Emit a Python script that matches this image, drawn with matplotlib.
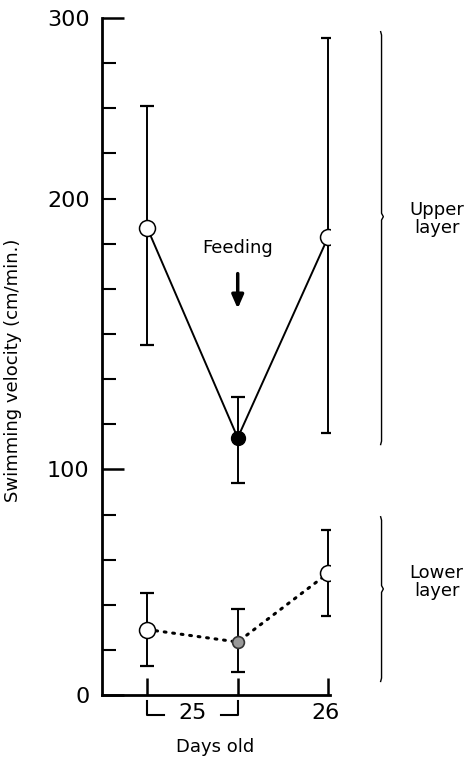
import numpy as np
import matplotlib
matplotlib.use("Agg")
import matplotlib.pyplot as plt

# days: 25 (before feeding), 25 (after feeding), 26
x_pos = [0, 1, 2]

upper_mean = [207, 114, 203]
upper_hi = [261, 132, 291]
upper_lo = [155, 94, 116]

lower_mean = [29, 23.5, 54]
lower_hi = [45, 38, 73]
lower_lo = [13, 10, 35]

ytick_major = [0, 100, 300]
ytick_major_labels = ['0', '100', '300']
ytick_minor = [v for v in range(0, 301, 20) if v not in ytick_major]
ytick_minor_labels = ['200' if v == 220 else '' for v in ytick_minor]

plt.rcParams['font.family'] = ['DejaVu Sans']

fig = plt.figure(figsize=(4.71, 7.58), dpi=100)
ax = fig.add_axes([0.2166, 0.0831, 0.484, 0.893])

up_err = [np.array(upper_mean) - np.array(upper_lo), np.array(upper_hi) - np.array(upper_mean)]
lo_err = [np.array(lower_mean) - np.array(lower_lo), np.array(lower_hi) - np.array(lower_mean)]

ax.errorbar(x_pos, upper_mean, yerr=up_err, fmt='none', ecolor='black', elinewidth=1.4,
            capsize=5, capthick=1.6, zorder=2)
ax.plot(x_pos, upper_mean, color='black', lw=1.4, zorder=3)
ax.plot([x_pos[0], x_pos[2]], [upper_mean[0], upper_mean[2]], 'o', ms=11.5, mfc='white',
        mec='black', mew=1.1, zorder=4)
ax.plot([x_pos[1]], [upper_mean[1]], 'o', ms=10, mfc='black', mec='black', zorder=4)

ax.errorbar(x_pos, lower_mean, yerr=lo_err, fmt='none', ecolor='black', elinewidth=1.4,
            capsize=5, capthick=1.6, zorder=2)
ax.plot(x_pos, lower_mean, color='black', lw=2.2, ls=(0, (0.6, 2.2)),
        dash_capstyle='round', zorder=3)
ax.plot([x_pos[0], x_pos[2]], [lower_mean[0], lower_mean[2]], 'o', ms=11.5, mfc='white',
        mec='black', mew=1.1, zorder=4)
ax.plot([x_pos[1]], [lower_mean[1]], 'o', ms=8.5, mfc='#999999', mec='#333333', mew=1.2,
        zorder=4)

ax.set_xlim(-0.5, 2.02)
ax.set_ylim(0, 300)
for s in ['top', 'right']:
    ax.spines[s].set_visible(False)
for s in ['left', 'bottom']:
    ax.spines[s].set_linewidth(2)

ax.set_yticks(ytick_major, ytick_major_labels)
ax.set_yticks(ytick_minor, ytick_minor_labels, minor=True)
ax.tick_params(axis='y', which='major', direction='in', length=16, width=1.8,
               labelsize=16, pad=9)
ax.tick_params(axis='y', which='minor', direction='in', length=10, width=1.5,
               labelsize=16, pad=9)
ax.set_xticks(x_pos, ['', '', ''])
ax.tick_params(axis='x', direction='in', length=12, width=1.8)

ax.set_ylabel('Swimming velocity (cm/min.)', fontsize=13)
ax.yaxis.set_label_coords(-0.35, 0.48)

# day labels with corner brackets under the axis
ax.plot([0, 0, 0.18], [-2.5, -9, -9], color='black', lw=1.5, clip_on=False)
ax.plot([0.82, 1, 1], [-9, -9, -2.5], color='black', lw=1.5, clip_on=False)
ax.text(0.5, -8, '25', ha='center', va='center', fontsize=16)
ax.text(1.97, -8, '26', ha='center', va='center', fontsize=16)
ax.text(0.75, -23, 'Days old', ha='center', va='center', fontsize=13)

ax.text(1, 198, 'Feeding', ha='center', va='center', fontsize=13)
ax.annotate('', xy=(1, 170), xytext=(1, 188),
            arrowprops=dict(arrowstyle='-|>,head_width=0.35,head_length=0.8',
                            color='black', lw=2.5))

# braces on the right
def brace(y0, y1, ytip):
    xs = 2.58
    ax.plot([xs, xs + 0.01, xs + 0.01, xs + 0.03, xs + 0.01, xs + 0.01, xs],
            [y1, y1 - 1.5, ytip + 1.5, ytip, ytip - 1.5, y0 + 1.5, y0],
            color='black', lw=1.0, clip_on=False)

brace(111, 294, 212)
brace(6, 79, 47)
ax.text(3.2, 211, 'Upper\nlayer', ha='center', va='center', fontsize=13, linespacing=1.0)
ax.text(3.2, 50, 'Lower\nlayer', ha='center', va='center', fontsize=13, linespacing=1.0)

fig.savefig('out.png', dpi=100)
